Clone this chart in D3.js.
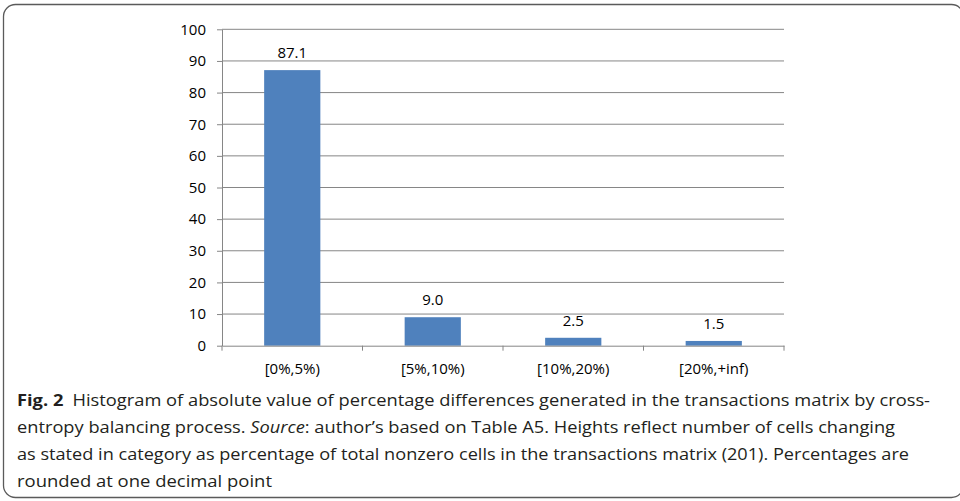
<!DOCTYPE html>
<html>
<head>
<meta charset="utf-8">
<script src="https://cdn.jsdelivr.net/npm/d3@7"></script>
<style>
  body { margin: 0; background: #fff; }
  svg { display: block; }
</style>
</head>
<body>
<script>
// chart values
var categories = ["[0%,5%)", "[5%,10%)", "[10%,20%)", "[20%,+inf)"];
var values = [87.1, 9.0, 2.5, 1.5];
var valueLabels = ["87.1", "9.0", "2.5", "1.5"];
var yTicks = [0, 10, 20, 30, 40, 50, 60, 70, 80, 90, 100];

// caption, line by line as in the figure
var captionLines = [
  [{ t: "Fig. 2", w: "bold" }, { t: "\u2002Histogram of absolute value of percentage differences generated in the transactions matrix by cross-" }],
  [{ t: "entropy balancing process. " }, { t: "Source", s: "italic" }, { t: ": author\u2019s based on Table A5. Heights reflect number of cells changing" }],
  [{ t: "as stated in category as percentage of total nonzero cells in the transactions matrix (201). Percentages are" }],
  [{ t: "rounded at one decimal point" }]
];
var captionWidths = [913, 878, 892, 255];

function main() {
  var width = 960;
  var height = 501;
  var left = 222, right = 784, top = 29.3, bottom = 345.7;
  var axisColor = "#868686";
  var chartFont = "'Open Sans', 'Liberation Sans', sans-serif";
  var chartSize = "15px";

  var svg = d3.select("body").append("svg")
    .attr("width", width)
    .attr("height", height);

  // outer frame
  svg.append("rect")
    .attr("x", 3.5).attr("y", 4.5)
    .attr("width", 960).attr("height", 493)
    .attr("rx", 12).attr("ry", 12)
    .attr("fill", "none")
    .attr("stroke", "#5a5a5a")
    .attr("stroke-width", 1.3);

  var x = d3.scaleBand()
    .domain(categories)
    .range([left, right])
    .paddingInner(0.6)
    .paddingOuter(0.3);

  var y = d3.scaleLinear()
    .domain([0, 100])
    .range([bottom, top]);

  // gridlines
  svg.append("g")
    .selectAll("line")
    .data(yTicks.filter(function (d) { return d > 0; }))
    .enter().append("line")
    .attr("x1", left).attr("x2", right)
    .attr("y1", function (d) { return y(d); })
    .attr("y2", function (d) { return y(d); })
    .attr("stroke", axisColor)
    .attr("stroke-width", 1);

  // y axis
  var yAxis = svg.append("g")
    .attr("transform", "translate(" + left + ",0)")
    .call(d3.axisLeft(y).tickValues(yTicks).tickSize(5).tickPadding(11).tickSizeOuter(0));
  yAxis.select(".domain").attr("stroke", axisColor);
  yAxis.selectAll(".tick line").attr("stroke", axisColor);
  yAxis.selectAll("text")
    .attr("font-family", chartFont)
    .attr("font-size", chartSize)
    .attr("fill", "#000");

  // bars
  svg.append("g")
    .selectAll("rect")
    .data(values)
    .enter().append("rect")
    .attr("x", function (d, i) { return x(categories[i]); })
    .attr("y", function (d) { return y(d); })
    .attr("width", x.bandwidth())
    .attr("height", function (d) { return y(0) - y(d); })
    .attr("fill", "#4f81bd");

  // value labels
  svg.append("g")
    .selectAll("text")
    .data(values)
    .enter().append("text")
    .attr("x", function (d, i) { return x(categories[i]) + x.bandwidth() / 2; })
    .attr("y", function (d) { return y(d) - 12; })
    .attr("text-anchor", "middle")
    .attr("font-family", chartFont)
    .attr("font-size", chartSize)
    .attr("fill", "#000")
    .text(function (d, i) { return valueLabels[i]; });

  // x axis: labels at centers, ticks at band edges
  var xAxis = svg.append("g")
    .attr("transform", "translate(0," + bottom + ")")
    .call(d3.axisBottom(x).tickSize(0).tickPadding(18).tickSizeOuter(0));
  xAxis.select(".domain").attr("stroke", axisColor);
  xAxis.selectAll("text")
    .attr("font-family", chartFont)
    .attr("font-size", chartSize)
    .attr("fill", "#000");

  var gap = (x.step() - x.bandwidth()) / 2;
  var edges = categories.map(function (c) { return x(c) - gap; });
  edges.push(right);
  xAxis.selectAll(".edge")
    .data(edges)
    .enter().append("line")
    .attr("class", "edge")
    .attr("x1", function (d) { return d; })
    .attr("x2", function (d) { return d; })
    .attr("y1", 0).attr("y2", 5)
    .attr("stroke", axisColor);

  // caption
  var cap = svg.append("g")
    .attr("font-family", "'Open Sans', 'Noto Sans', sans-serif")
    .attr("font-size", "16.5px")
    .attr("fill", "#231f20");

  captionLines.forEach(function (line, i) {
    var t = cap.append("text")
      .attr("x", 17)
      .attr("y", 406 + i * 27)
      .attr("textLength", captionWidths[i])
      .attr("lengthAdjust", "spacingAndGlyphs");
    line.forEach(function (part) {
      t.append("tspan")
        .attr("font-weight", part.w || null)
        .attr("font-style", part.s || null)
        .text(part.t);
    });
  });
}

main();
</script>
</body>
</html>
